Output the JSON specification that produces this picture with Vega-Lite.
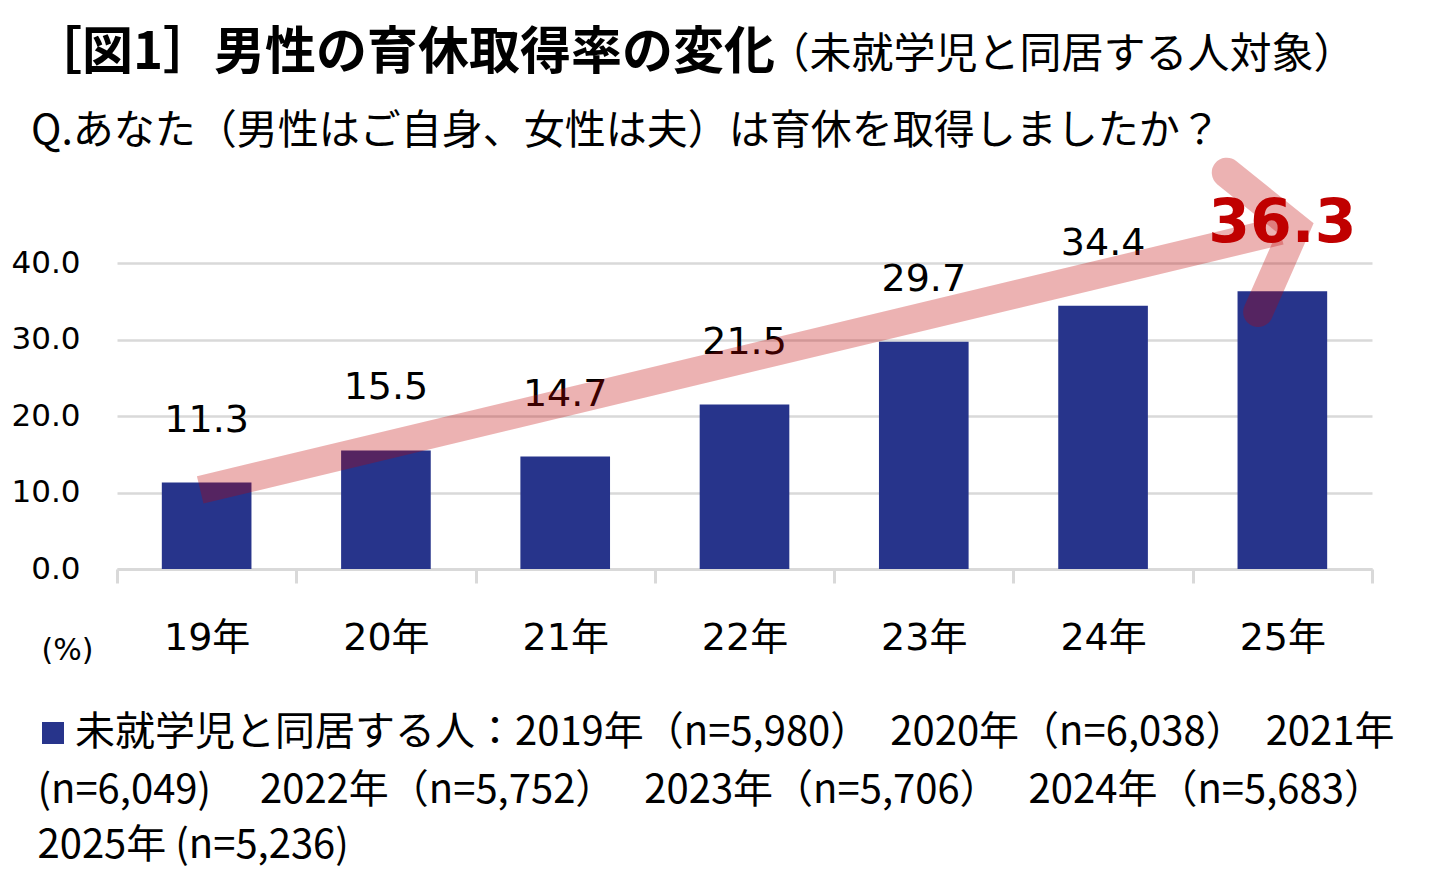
{
  "$schema": "https://vega.github.io/schema/vega-lite/v6.json",
  "width": 1255,
  "height": 306,
  "autosize": {"type": "none"},
  "padding": {"left": 117, "top": 263, "right": 62, "bottom": 324},
  "background": "white",
  "title": {
    "text": "［図1］男性の育休取得率の変化",
    "subtitle": "Q.あなた（男性はご自身、女性は夫）は育休を取得しましたか？",
    "anchor": "start",
    "frame": "group",
    "font": "Noto Sans CJK JP",
    "fontSize": 51,
    "fontWeight": "bold",
    "color": "#000000",
    "subtitleFont": "Noto Sans CJK JP",
    "subtitleFontSize": 41,
    "subtitleColor": "#000000",
    "subtitlePadding": 32,
    "dx": -86,
    "dy": 130,
    "offset": 10
  },
  "datasets": {
    "rates": [
      {"year": "19年", "rate": 11.3, "series": "未就学児と同居する人"},
      {"year": "20年", "rate": 15.5, "series": "未就学児と同居する人"},
      {"year": "21年", "rate": 14.7, "series": "未就学児と同居する人"},
      {"year": "22年", "rate": 21.5, "series": "未就学児と同居する人"},
      {"year": "23年", "rate": 29.7, "series": "未就学児と同居する人"},
      {"year": "24年", "rate": 34.4, "series": "未就学児と同居する人"},
      {"year": "25年", "rate": 36.3, "series": "未就学児と同居する人"}
    ],
    "arrow": [
      {"part": "shaft", "seq": 0, "ax": 0.464, "ay": 10.34},
      {"part": "shaft", "seq": 1, "ax": 6.488, "ay": 44.2},
      {"part": "head", "seq": 0, "ax": 6.19, "ay": 51.8},
      {"part": "head", "seq": 1, "ax": 6.572, "ay": 44.6},
      {"part": "head", "seq": 2, "ax": 6.365, "ay": 33.6}
    ]
  },
  "layer": [
    {
      "data": {"name": "rates"},
      "encoding": {
        "x": {
          "field": "year",
          "type": "nominal",
          "sort": null,
          "scale": {"paddingInner": 0, "paddingOuter": 0},
          "axis": {
            "orient": "bottom",
            "title": ["(n=6,049)　 2022年（n=5,752）　 2023年（n=5,706）　 2024年（n=5,683）", "2025年 (n=5,236)"],
            "titleX": -80,
            "titleY": 233,
            "titleAlign": "left",
            "titleAnchor": "start",
            "titleBaseline": "alphabetic",
            "titleLineHeight": 55,
            "titleFont": "Noto Sans CJK JP",
            "titleFontSize": 40,
            "titleFontWeight": "normal",
            "titleColor": "#000000",
            "labelAngle": 0,
            "labelFont": "DejaVu Sans, Noto Sans CJK JP",
            "labelFontSize": 38,
            "labelColor": "#000000",
            "labelPadding": 36,
            "tickBand": "extent",
            "tickColor": "#d9d9d9",
            "tickWidth": 3,
            "tickSize": 14,
            "domainColor": "#d9d9d9",
            "domainWidth": 3,
            "grid": false
          }
        },
        "y": {
          "field": "rate",
          "type": "quantitative",
          "scale": {"domain": [0, 40], "nice": false},
          "axis": {
            "values": [0, 10, 20, 30, 40],
            "format": ".1f",
            "title": "(%)",
            "titleAngle": 0,
            "titleX": -50,
            "titleY": 387,
            "titleAlign": "center",
            "titleBaseline": "middle",
            "titleFont": "DejaVu Sans",
            "titleFontSize": 30,
            "titleFontWeight": "normal",
            "titleColor": "#000000",
            "labelFont": "DejaVu Sans",
            "labelFontSize": 31,
            "labelColor": "#000000",
            "labelPadding": 37,
            "domain": false,
            "ticks": false,
            "grid": true,
            "gridColor": "#d9d9d9",
            "gridWidth": 2.5
          }
        }
      },
      "layer": [
        {
          "mark": {"type": "bar", "width": {"band": 0.5}},
          "encoding": {
            "color": {
              "field": "series",
              "type": "nominal",
              "scale": {"range": ["#27348B"]},
              "legend": {
                "orient": "none",
                "legendX": -84,
                "legendY": 450,
                "title": null,
                "padding": 0,
                "symbolType": "square",
                "symbolSize": 484,
                "symbolStrokeWidth": 0,
                "symbolOpacity": 1,
                "labelFont": "Noto Sans CJK JP",
                "labelFontSize": 40,
                "labelColor": "#000000",
                "labelLimit": 3000,
                "labelOffset": 2,
                "labelExpr": "'未就学児と同居する人：2019年（n=5,980）　2020年（n=6,038）　2021年'"
              }
            }
          }
        },
        {
          "transform": [{"filter": "datum.year !== '25年'"}],
          "mark": {"type": "text", "baseline": "middle", "dy": -62, "font": "DejaVu Sans", "fontSize": 38, "color": "#000000"},
          "encoding": {"text": {"field": "rate", "type": "quantitative", "format": ".1f"}}
        },
        {
          "transform": [{"filter": "datum.year === '25年'"}],
          "mark": {"type": "text", "baseline": "middle", "dy": -67, "font": "DejaVu Sans", "fontSize": 60, "fontWeight": "bold", "color": "#C00000"},
          "encoding": {"text": {"field": "rate", "type": "quantitative", "format": ".1f"}}
        }
      ]
    },
    {
      "data": {"name": "arrow"},
      "encoding": {
        "x": {
          "field": "ax",
          "type": "quantitative",
          "scale": {"domain": [0, 7], "nice": false, "zero": false},
          "axis": {
            "orient": "top",
            "title": "（未就学児と同居する人対象）",
            "titleX": 650,
            "titleY": -209,
            "titleAlign": "left",
            "titleBaseline": "middle",
            "titleFont": "Noto Sans CJK JP",
            "titleFontSize": 42,
            "titleFontWeight": "normal",
            "titleColor": "#000000",
            "labels": false,
            "ticks": false,
            "domain": false,
            "grid": false
          }
        },
        "y": {"field": "ay", "type": "quantitative", "scale": {"domain": [0, 40], "nice": false}},
        "order": {"field": "seq", "type": "quantitative"}
      },
      "layer": [
        {
          "transform": [{"filter": "datum.part === 'shaft'"}],
          "mark": {"type": "line", "color": "#C00000", "opacity": 0.3, "strokeWidth": 28, "strokeCap": "butt"}
        },
        {
          "transform": [{"filter": "datum.part === 'head'"}],
          "mark": {"type": "line", "color": "#C00000", "opacity": 0.3, "strokeWidth": 30, "strokeCap": "round", "strokeJoin": "miter"}
        }
      ]
    }
  ],
  "resolve": {"scale": {"x": "independent"}, "axis": {"x": "independent"}},
  "config": {"view": {"stroke": null}}
}
